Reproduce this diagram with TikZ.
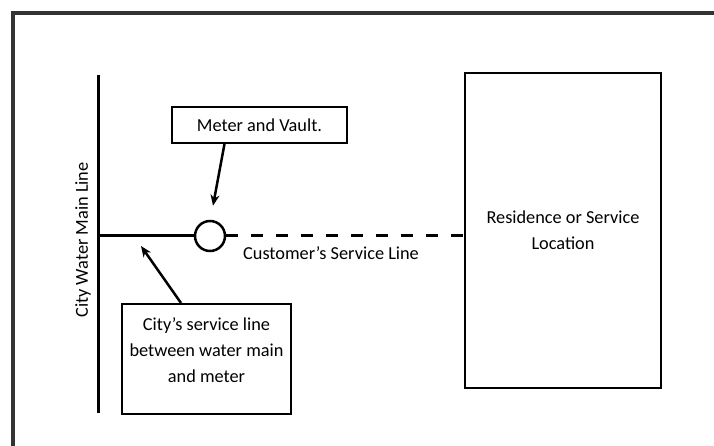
\documentclass[tikz,border=0pt]{standalone}
\usepackage{fontspec}
\setmainfont{Carlito}
\usetikzlibrary{arrows.meta,positioning}

\begin{document}
\begin{tikzpicture}[
  x=1pt, y=-1pt,
  font=\fontsize{18.3}{26}\selectfont,
  box/.style={rectangle, draw, line width=1.8pt, align=center, inner sep=4pt},
  meterring/.style={circle, draw, line width=2.5pt, minimum size=30pt, inner sep=0pt},
  pipe/.style={line width=3pt},
  svc/.style={line width=3pt, dash pattern=on 12pt off 13pt},
  arr/.style={line width=2.5pt, -{Stealth[length=11pt, width=9pt]}},
  frame/.style={line width=3.5pt, black!80}
]
\useasboundingbox (0,0) rectangle (714,446);

% Frame
\draw[frame] (13,446) -- (13,13) -- (714,13);

% Main line
\coordinate (maintop) at (98,75);
\coordinate (mainbot) at (98,413);
\draw[pipe] (maintop) -- (mainbot);
\node[rotate=90] (mainlbl) at (83,240) {City Water Main Line};

% Meter and residence
\node[meterring] (meter) at (210,236) {};
\node[box, minimum width=196pt, minimum height=315pt] (res) at (563,230.5) {Residence or Service\\Location};

\coordinate (tap) at (100,236);
\draw[pipe] (tap) -- (meter.west);
\draw[svc] (meter.east) -- (meter.east -| res.west);
\node (custlbl) at (331,253) {Customer’s Service Line};

% Callouts
\node[box, minimum width=175pt, minimum height=36pt] (meterbox) at (259.5,125) {Meter and Vault.};
\node[box, minimum width=169pt, minimum height=110pt, anchor=north] (citybox) at (206.5,303)
  {City’s service line\\between water main\\and meter\rule[-18pt]{0pt}{18pt}};

\coordinate (citytip) at (141,246);
\draw[arr] ([xshift=-35pt]meterbox.south) -- ([shift={(3,-14)}]meter.north);
\draw[arr] ([xshift=-25.5pt]citybox.north) -- (citytip);

\end{tikzpicture}
\end{document}
